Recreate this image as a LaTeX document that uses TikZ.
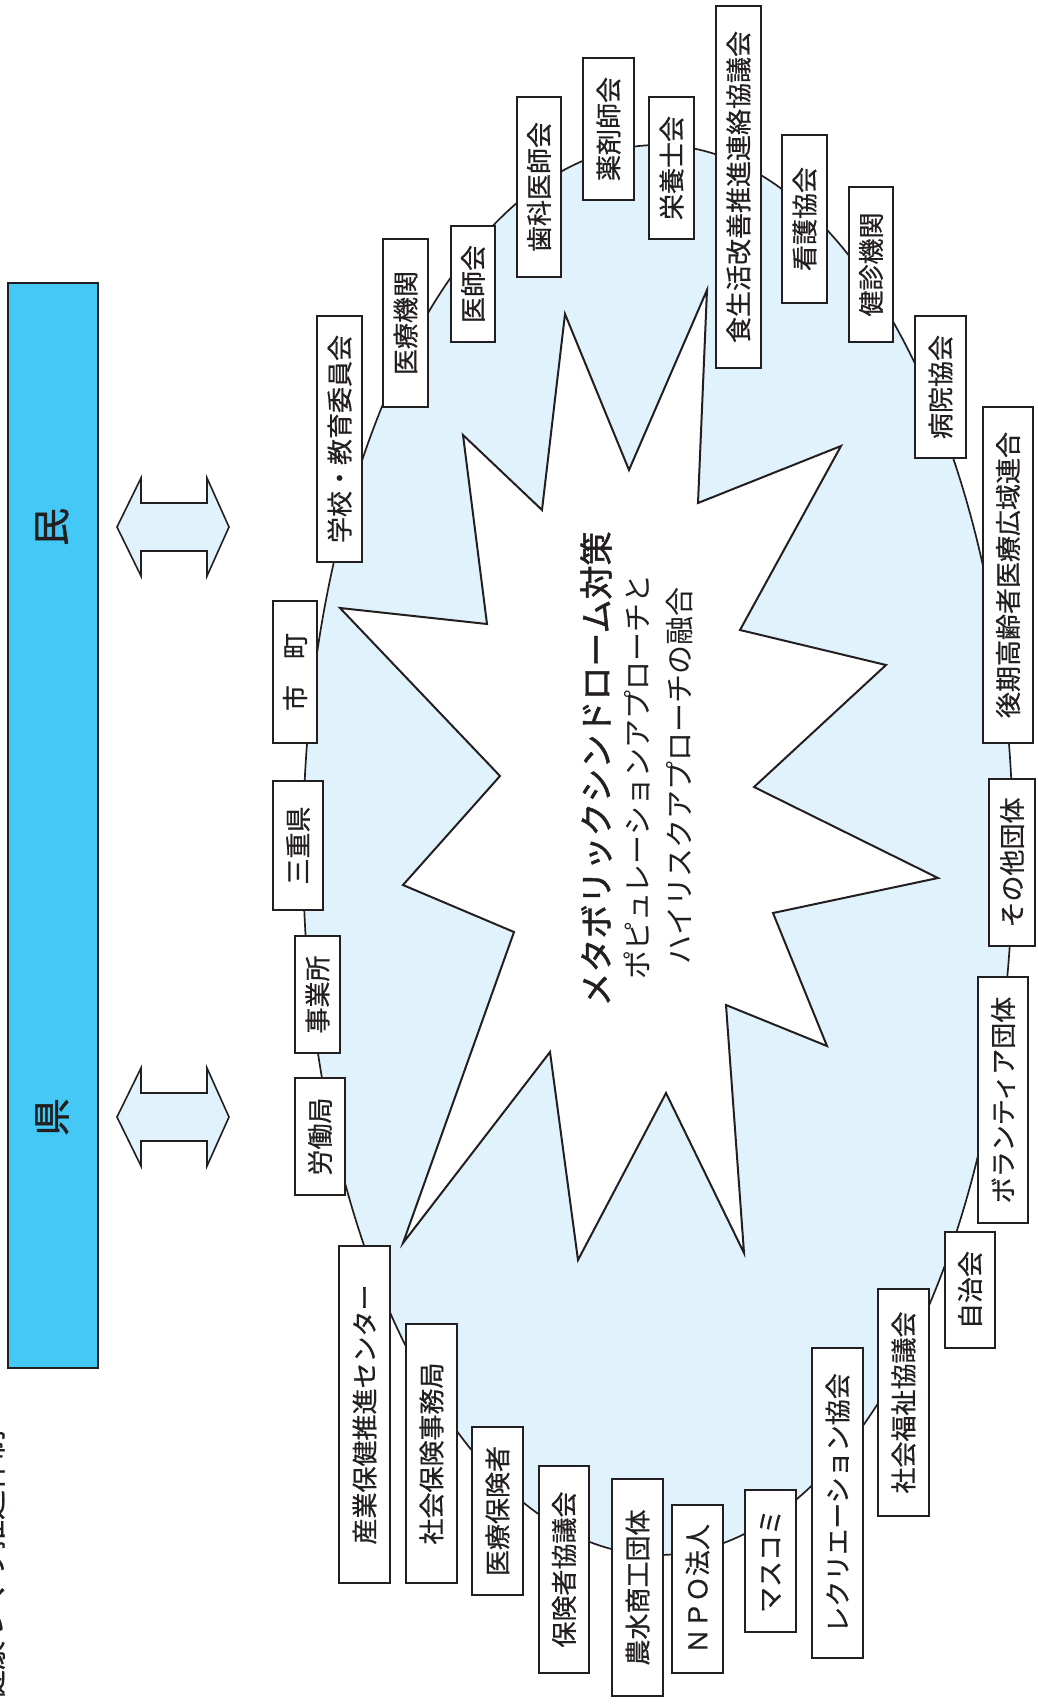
\documentclass[tikz,border=0pt]{standalone}
\usepackage{fontspec}
\newfontfamily\jp{Noto Sans CJK JP}
\newfontfamily\jpsemi{Noto Sans CJK JP}[FakeBold=0.6]
\newfontfamily\jpmed{Noto Sans CJK JP}[FakeBold=1.3]
\definecolor{barblue}{RGB}{68,200,245}
\definecolor{lightfill}{RGB}{224,242,252}
\definecolor{ink}{RGB}{35,31,32}
\begin{document}
\begin{tikzpicture}[x=1pt,y=-1pt,
  box/.style={draw=ink, line width=1.6pt, fill=white, rotate=90, inner sep=0pt,
    font=\jpsemi\fontsize{26}{26}\selectfont, text=ink},
  dblarrow/.style={draw=ink, line width=1.6pt, fill=lightfill, line join=miter},
  jptext/.style={rotate=90, inner sep=0pt, text=ink}]
\useasboundingbox (0,0) rectangle (1038,1707);

% caption cut at the left edge
\node[jptext, font=\jpsemi\fontsize{30}{30}\selectfont] (caption) at (-9,1565) {健康づくり推進体制};

% blue bar
\node[draw=ink, line width=1.8pt, fill=barblue, minimum width=90pt, minimum height=1085pt,
  inner sep=0pt, anchor=north west] (bar) at (7,282) {};
\node[jptext, font=\jpmed\fontsize{38}{38}\selectfont] (min) at (52,527) {民};
\node[jptext, font=\jpmed\fontsize{38}{38}\selectfont] (ken) at (52,1117) {県};

% double arrows
\foreach \cy/\nm in {527/arrA,1117/arrB}{
  \coordinate (\nm) at (173,\cy);
  \draw[dblarrow] (117,\cy) -- (141,\cy-49) -- (141,\cy-24) -- (207,\cy-24) -- (207,\cy-49)
    -- (229,\cy) -- (207,\cy+49) -- (207,\cy+24) -- (141,\cy+24) -- (141,\cy+49) -- cycle;
}

% ellipse
\draw[draw=ink, line width=1.7pt, fill=lightfill] (658,850) ellipse [x radius=355pt, y radius=705pt];

% starburst
\draw[draw=ink, line width=2pt, fill=white, line join=miter]
  (340,608) -- (487,624) -- (463,435) -- (542,510) -- (565,314) -- (629,470)
  -- (707,290) -- (698,503) -- (841,446) -- (740,630) -- (886,665) -- (754,787)
  -- (938,878) -- (773,913) -- (827,1046) -- (726,1005) -- (744,1253) -- (666,1093)
  -- (578,1260) -- (550,1052) -- (403,1243) -- (514,932) -- (403,885) -- (500,776) -- cycle;

% central text
\node[jptext, font=\jpmed\fontsize{34}{34}\selectfont] (t1) at (596,769) {メタボリックシンドローム対策};
\node[jptext, font=\jp\fontsize{29}{29}\selectfont] (t2) at (637,777) {ポピュレーションアプローチと};
\node[jptext, font=\jp\fontsize{29}{29}\selectfont] (t3) at (680,776) {ハイリスクアプローチの融合};

% boxes around the ellipse
\node[box, minimum width=246pt, minimum height=45pt] (gakko) at (339.5,439) {学校・教育委員会};
\node[box, minimum width=168pt, minimum height=45pt] (iryokikan) at (405.5,323) {医療機関};
\node[box, minimum width=116pt, minimum height=44pt] (ishikai) at (473,284) {医師会};
\node[box, minimum width=180pt, minimum height=44pt] (shika) at (539,187) {歯科医師会};
\node[box, minimum width=142pt, minimum height=51pt] (yakuzai) at (608.5,129) {薬剤師会};
\node[box, minimum width=142pt, minimum height=45pt] (eiyo) at (671.5,168) {栄養士会};
\node[box, minimum width=362pt, minimum height=45pt] (shoku) at (738.5,187) {食生活改善推進連絡協議会};
\node[box, minimum width=168pt, minimum height=45pt] (kango) at (804.5,219) {看護協会};
\node[box, minimum width=155pt, minimum height=44pt] (kenshin) at (871,264.5) {健診機関};
\node[box, minimum width=142pt, minimum height=51pt] (byoin) at (940.5,387) {病院協会};
\node[box, minimum width=336pt, minimum height=50pt] (koki) at (1008,575) {後期高齢者医療広域連合};
\node[box, minimum width=167pt, minimum height=46pt] (sonota) at (1012,862.5) {その他団体};
\node[box, minimum width=246pt, minimum height=50pt] (volunteer) at (1003,1100) {ボランティア団体};
\node[box, minimum width=116pt, minimum height=50pt] (jichi) at (970,1290) {自治会};
\node[box, minimum width=227pt, minimum height=51pt] (shakyo) at (903.5,1402.5) {社会福祉協議会};
\node[box, minimum width=310pt, minimum height=51pt] (rec) at (837.5,1503) {レクリエーション協会};
\node[box, minimum width=142pt, minimum height=51pt] (masukomi) at (770.5,1561) {マスコミ};
\node[box, minimum width=217pt, minimum height=51pt] (nosui) at (637.5,1587.5) {農水商工団体};
\node[box, minimum width=168pt, minimum height=51pt] (npo) at (697.5,1589) {ＮＰＯ法人};
\node[box, minimum width=207pt, minimum height=50pt] (hokenkyo) at (564,1569.5) {保険者協議会};
\node[box, minimum width=168pt, minimum height=51pt] (iryohoken) at (497.5,1511) {医療保険者};
\node[box, minimum width=259pt, minimum height=51pt] (shaho) at (431.5,1453.5) {社会保険事務局};
\node[box, minimum width=337pt, minimum height=51pt] (sangyo) at (364.5,1414.5) {産業保健推進センター};
\node[box, minimum width=117pt, minimum height=50pt] (rodo) at (320,1136.5) {労働局};
\node[box, minimum width=117pt, minimum height=45pt] (jigyo) at (317.5,994.5) {事業所};
\node[box, minimum width=129pt, minimum height=50pt] (mie) at (298,845.5) {三重県};
\node[box, minimum width=142pt, minimum height=44pt] (shicho) at (295,672) {市　町};
\end{tikzpicture}
\end{document}
